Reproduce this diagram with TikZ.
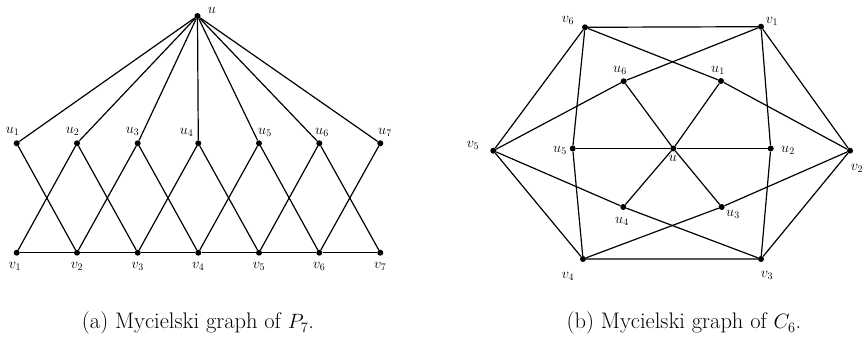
\documentclass[tikz,border=0pt]{standalone}
\begin{document}
\begin{tikzpicture}[x=1pt,y=-1pt,
  vtx/.style={circle,fill=black,inner sep=0pt,minimum size=6pt},
  lbl/.style={font=\fontsize{14}{16}\selectfont,inner sep=0pt},
  edge/.style={line width=1.2pt},
  captext/.style={font=\fontsize{22.5}{26}\selectfont,inner sep=0pt,anchor=base}]
\useasboundingbox (0,0) rectangle (864,344);
% ---------- (a) ----------
\node[vtx] (u) at (197.5,16) {};
\foreach \i/\x in {1/16.7,2/77,3/137.7,4/198.3,5/259,6/319.3,7/380.3}{
  \node[vtx] (au\i) at (\x,143.3) {};
  \node[vtx] (av\i) at (\x,252.7) {};
}
\node[lbl] at (212,10) {$u$};
\node[lbl] at (12.7,131.5) {$u_1$};
\node[lbl] at (72.7,131.5) {$u_2$};
\node[lbl] at (132.7,131.5) {$u_3$};
\node[lbl] at (186.7,132) {$u_4$};
\node[lbl] at (265,132) {$u_5$};
\node[lbl] at (322,132) {$u_6$};
\node[lbl] at (385,132) {$u_7$};
\foreach \i/\x in {1/15,2/77,3/137.7,4/198.3,5/259,6/319.3,7/380.3}{
  \node[lbl] at (\x,266.5) {$v_{\i}$};
}
\foreach \i in {1,...,7}{\draw[edge] (u) -- (au\i);}
\draw[edge] (av1) -- (av2) -- (av3) -- (av4) -- (av5) -- (av6) -- (av7);
\foreach \a/\b in {1/2,2/1,2/3,3/2,3/4,4/3,4/5,5/4,5/6,6/5,6/7,7/6}{
  \draw[edge] (au\a) -- (av\b);
}
% ---------- (b) ----------
\node[vtx] (bv6) at (585,27.3) {};
\node[vtx] (bv1) at (761,26.7) {};
\node[vtx] (bv5) at (493.3,150.7) {};
\node[vtx] (bv2) at (850,150.7) {};
\node[vtx] (bv4) at (583,259) {};
\node[vtx] (bv3) at (761,259) {};
\node[vtx] (bu) at (673.3,148.5) {};
\node[vtx] (bu6) at (623.7,81.3) {};
\node[vtx] (bu1) at (721,81) {};
\node[vtx] (bu5) at (572.7,148.5) {};
\node[vtx] (bu2) at (770.7,148.5) {};
\node[vtx] (bu4) at (623.3,207) {};
\node[vtx] (bu3) at (721.7,207) {};
\node[lbl] at (568,20.7) {$v_6$};
\node[lbl] at (772,21) {$v_1$};
\node[lbl] at (473,145) {$v_5$};
\node[lbl] at (857,168) {$v_2$};
\node[lbl] at (568,276) {$v_4$};
\node[lbl] at (767,275) {$v_3$};
\node[lbl] at (620,70) {$u_6$};
\node[lbl] at (718,70) {$u_1$};
\node[lbl] at (560,150) {$u_5$};
\node[lbl] at (788,150) {$u_2$};
\node[lbl] at (673,158) {$u$};
\node[lbl] at (622,221) {$u_4$};
\node[lbl] at (733,214) {$u_3$};
\draw[edge] (bv1) -- (bv2) -- (bv3) -- (bv4) -- (bv5) -- (bv6) -- (bv1);
\foreach \i in {1,...,6}{\draw[edge] (bu) -- (bu\i);}
\foreach \a/\b in {1/6,1/2,2/1,2/3,3/2,3/4,4/3,4/5,5/4,5/6,6/5,6/1}{
  \draw[edge] (bu\a) -- (bv\b);
}
% ---------- captions ----------
\node[captext] (capa) at (198,329) {(a) Mycielski graph of $P_7$.};
\node[captext] (capb) at (684,329) {(b) Mycielski graph of $C_6$.};
\end{tikzpicture}
\end{document}
